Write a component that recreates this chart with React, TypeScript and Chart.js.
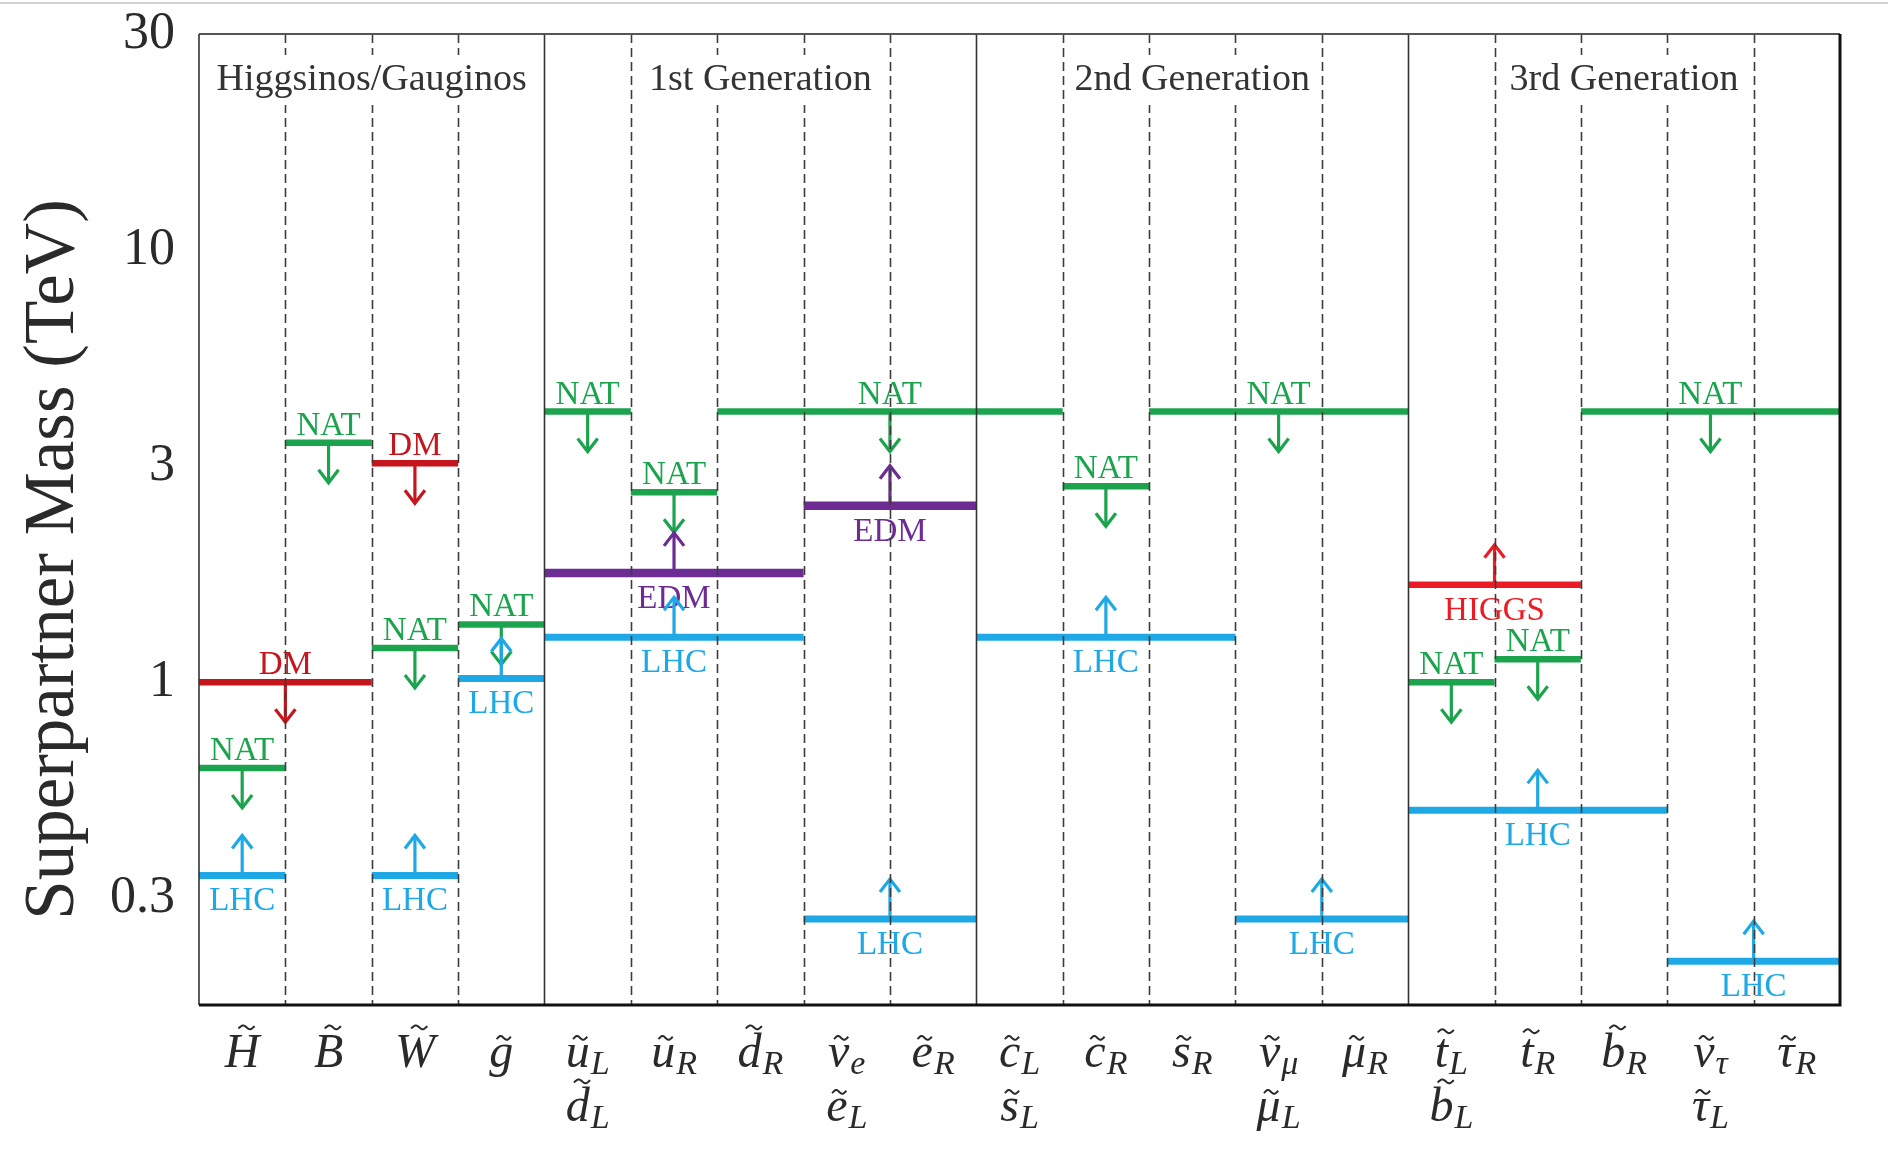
import React, { useEffect, useRef } from "react";
import { Chart, registerables } from "chart.js";

Chart.register(...registerables);

// ---------- data ----------
const columnTop = ["H", "B", "W", "g", "u_L", "u_R", "d_R", "ν_e", "e_R", "c_L", "c_R", "s_R", "ν_μ", "μ_R", "t_L", "t_R", "b_R", "ν_τ", "τ_R"];
const columnBottom = ["", "", "", "", "d_L", "", "", "e_L", "", "s_L", "", "", "μ_L", "", "b_L", "", "", "τ_L", ""];

const groupTitles = ["Higgsinos/Gauginos", "1st Generation", "2nd Generation", "3rd Generation"];
const groupEdges = [0, 4, 9, 14, 19];

// ticks sit at half-decades, labelled with rounded values
const yTickValues = [0.3162, 1, 3.162, 10, 31.62];
const yTickLabels = ["0.3", "1", "3", "10", "30"];
const Y_MIN = 0.179;
const Y_MAX = 31.62;

const boundType = ["LHC", "NAT", "DM", "NAT", "DM", "NAT", "LHC", "NAT", "LHC", "NAT", "NAT", "NAT", "EDM", "LHC", "EDM", "LHC", "NAT", "LHC", "NAT", "LHC", "HIGGS", "NAT", "NAT", "LHC", "NAT", "LHC"];
const boundStart = [0, 0, 0, 1, 2, 2, 2, 3, 3, 4, 5, 6, 4, 4, 7, 7, 10, 9, 11, 12, 14, 14, 15, 14, 16, 17];
const boundEnd = [1, 1, 2, 2, 3, 3, 3, 4, 4, 5, 6, 10, 7, 7, 9, 9, 11, 12, 14, 14, 16, 15, 16, 17, 19, 19];
const boundMass = [0.357, 0.633, 1.0, 3.58, 3.21, 1.2, 0.357, 1.36, 1.02, 4.23, 2.75, 4.23, 1.79, 1.27, 2.56, 0.283, 2.84, 1.27, 4.23, 0.283, 1.68, 1.0, 1.13, 0.505, 4.23, 0.226];

const yTitle = "Superpartner Mass (TeV)";

// ---------- styles ----------
const TYPE_COLOR: Record<string, string> = {
  NAT: "#1ca34e",
  DM: "#c4161c",
  HIGGS: "#ec1c24",
  LHC: "#1ea9e6",
  EDM: "#6d2b94",
};
const TYPE_WIDTH: Record<string, number> = { NAT: 6.5, DM: 6.5, HIGGS: 6.5, LHC: 7, EDM: 8.5 };
const UP_TYPES = ["LHC", "EDM", "HIGGS"];
const ABOVE_TYPES = ["NAT", "DM"];
const SERIF = "'Liberation Serif', 'DejaVu Serif', serif";

function drawMath(ctx: CanvasRenderingContext2D, label: string, cx: number, baseline: number) {
  const [base, sub] = label.split("_");
  const fs = 48;
  const sfs = 34;
  ctx.font = `italic ${fs}px ${SERIF}`;
  const bw = ctx.measureText(base).width;
  let sw = 0;
  if (sub) {
    ctx.font = `italic ${sfs}px ${SERIF}`;
    sw = ctx.measureText(sub).width;
  }
  const total = bw + (sub ? sw + 1 : 0);
  const x0 = cx - total / 2;
  ctx.textAlign = "left";
  ctx.textBaseline = "alphabetic";
  ctx.fillStyle = "#2a2a2a";
  ctx.font = `italic ${fs}px ${SERIF}`;
  ctx.fillText(base, x0, baseline);
  if (sub) {
    ctx.font = `italic ${sfs}px ${SERIF}`;
    ctx.fillText(sub, x0 + bw + 1, baseline + 7);
  }
  const tallness = "HBWdb".includes(base) ? 0.68 : base === "t" ? 0.6 : 0.46;
  const ty = baseline - tallness * fs - 7;
  const tcx = x0 + bw / 2 + (tallness > 0.5 ? 0.09 : 0.05) * fs;
  const w = (tallness > 0.5 ? 0.34 : 0.3) * fs;
  const a = 0.04 * fs;
  ctx.strokeStyle = "#2a2a2a";
  ctx.lineWidth = 2;
  ctx.setLineDash([]);
  ctx.beginPath();
  for (let k = 0; k <= 20; k++) {
    const t = k / 20;
    const px = tcx - w / 2 + w * t;
    const py = ty - a * Math.sin(2 * Math.PI * (t * 1.2 - 0.1));
    if (k === 0) ctx.moveTo(px, py);
    else ctx.lineTo(px, py);
  }
  ctx.stroke();
}

const overlay = {
  id: "overlay",
  afterDatasetsDraw(chart: any) {
    const ctx: CanvasRenderingContext2D = chart.ctx;
    const xs = chart.scales.x;
    const ys = chart.scales.y;
    const { left, right, top, bottom } = chart.chartArea;
    ctx.save();

    // arrows and labels
    boundType.forEach((t, i) => {
      const cx = xs.getPixelForValue((boundStart[i] + boundEnd[i]) / 2);
      const y = ys.getPixelForValue(boundMass[i]);
      const up = UP_TYPES.includes(t);
      const color = TYPE_COLOR[t];
      const len = 40;
      const tipY = up ? y - len : y + len;
      const dir = up ? 1 : -1;
      ctx.strokeStyle = color;
      ctx.lineWidth = 3.2;
      ctx.setLineDash([]);
      ctx.lineCap = "butt";
      ctx.lineJoin = "miter";
      ctx.beginPath();
      ctx.moveTo(cx, y);
      ctx.lineTo(cx, tipY + dir * 1.5);
      ctx.stroke();
      ctx.beginPath();
      ctx.moveTo(cx - 10, tipY + dir * 13);
      ctx.lineTo(cx, tipY);
      ctx.lineTo(cx + 10, tipY + dir * 13);
      ctx.stroke();
      ctx.fillStyle = color;
      ctx.font = `33px ${SERIF}`;
      ctx.textAlign = "center";
      ctx.textBaseline = "alphabetic";
      const ly = ABOVE_TYPES.includes(t) ? y - 8 : y + 35;
      ctx.fillText(t, cx, ly);
    });

    // column separators
    for (let k = 1; k < 19; k++) {
      const x = Math.round(xs.getPixelForValue(k)) + 0.5;
      const solid = groupEdges.includes(k);
      ctx.strokeStyle = solid ? "#333333" : "#3c3c3c";
      ctx.lineWidth = 1.6;
      ctx.setLineDash(solid ? [] : [9, 5]);
      ctx.beginPath();
      ctx.moveTo(x, top);
      ctx.lineTo(x, bottom);
      ctx.stroke();
    }
    ctx.setLineDash([]);

    // frame
    ctx.strokeStyle = "#555";
    ctx.lineWidth = 2;
    ctx.beginPath();
    ctx.moveTo(left, top);
    ctx.lineTo(right, top);
    ctx.stroke();
    ctx.strokeStyle = "#333";
    ctx.lineWidth = 1.6;
    ctx.beginPath();
    ctx.moveTo(left, top);
    ctx.lineTo(left, bottom);
    ctx.stroke();
    ctx.strokeStyle = "#111";
    ctx.lineWidth = 3;
    ctx.beginPath();
    ctx.moveTo(left, bottom);
    ctx.lineTo(right, bottom);
    ctx.lineTo(right, top);
    ctx.stroke();

    // group headers
    ctx.font = `38px ${SERIF}`;
    ctx.textAlign = "center";
    ctx.textBaseline = "middle";
    groupTitles.forEach((g, i) => {
      const cx = (xs.getPixelForValue(groupEdges[i]) + xs.getPixelForValue(groupEdges[i + 1])) / 2;
      const w = ctx.measureText(g).width;
      ctx.fillStyle = "#ffffff";
      ctx.fillRect(cx - w / 2 - 4, top + 21, w + 8, 50);
      ctx.fillStyle = "#333333";
      ctx.fillText(g, cx, top + 46);
    });

    // x labels
    for (let i = 0; i < 19; i++) {
      const cx = xs.getPixelForValue(i + 0.5);
      drawMath(ctx, columnTop[i], cx, bottom + 62);
      if (columnBottom[i]) drawMath(ctx, columnBottom[i], cx, bottom + 116);
    }

    // y title
    ctx.save();
    ctx.translate(left - 126, (top + bottom) / 2 + 40);
    ctx.rotate(-Math.PI / 2);
    ctx.fillStyle = "#2a2a2a";
    ctx.font = `71px ${SERIF}`;
    ctx.textAlign = "center";
    ctx.textBaseline = "alphabetic";
    ctx.fillText(yTitle, 0, 0);
    ctx.restore();

    // faint page line at the top
    ctx.fillStyle = "#d2d2d2";
    ctx.fillRect(0, 2, chart.width, 2);

    ctx.restore();
  },
};

export default function App() {
  const ref = useRef<HTMLCanvasElement>(null);
  useEffect(() => {
    const canvas = ref.current!;
    const datasets = boundType.map((t, i) => ({
      label: t,
      data: [
        { x: boundStart[i], y: boundMass[i] },
        { x: boundEnd[i], y: boundMass[i] },
      ],
      borderColor: TYPE_COLOR[t],
      backgroundColor: TYPE_COLOR[t],
      borderWidth: TYPE_WIDTH[t],
      pointRadius: 0,
      borderCapStyle: "butt" as const,
      fill: false,
      tension: 0,
    }));
    const chart = new Chart(canvas, {
      type: "line",
      data: { datasets },
      options: {
        animation: false,
        responsive: true,
        maintainAspectRatio: false,
        events: [],
        layout: { padding: { left: 0, right: 48, top: 34, bottom: 0 } },
        plugins: { legend: { display: false }, tooltip: { enabled: false } },
        scales: {
          x: {
            type: "linear",
            min: 0,
            max: 19,
            grid: { display: false, drawTicks: false },
            border: { display: false },
            ticks: { display: false },
            afterFit: (s: any) => {
              s.height = 149;
              s.paddingLeft = 0;
              s.paddingRight = 0;
            },
          },
          y: {
            type: "logarithmic",
            min: Y_MIN,
            max: Y_MAX,
            grid: { display: false, drawTicks: false },
            border: { display: false },
            afterBuildTicks: (s: any) => {
              s.ticks = yTickValues.map((v) => ({ value: v }));
            },
            ticks: {
              callback: (v: any) => {
                const idx = yTickValues.indexOf(Number(v));
                return idx >= 0 ? yTickLabels[idx] : "";
              },
              font: { family: SERIF, size: 52 },
              color: "#2a2a2a",
              padding: 24,
            },
            afterFit: (s: any) => {
              s.width = 199;
              s.paddingTop = 0;
              s.paddingBottom = 0;
            },
          },
        },
      } as any,
      plugins: [overlay],
    });
    return () => chart.destroy();
  }, []);
  return (
    <div style={{ position: "fixed", left: 0, top: 0, width: 1888, height: 1154, background: "#ffffff" }}>
      <canvas ref={ref} />
    </div>
  );
}
